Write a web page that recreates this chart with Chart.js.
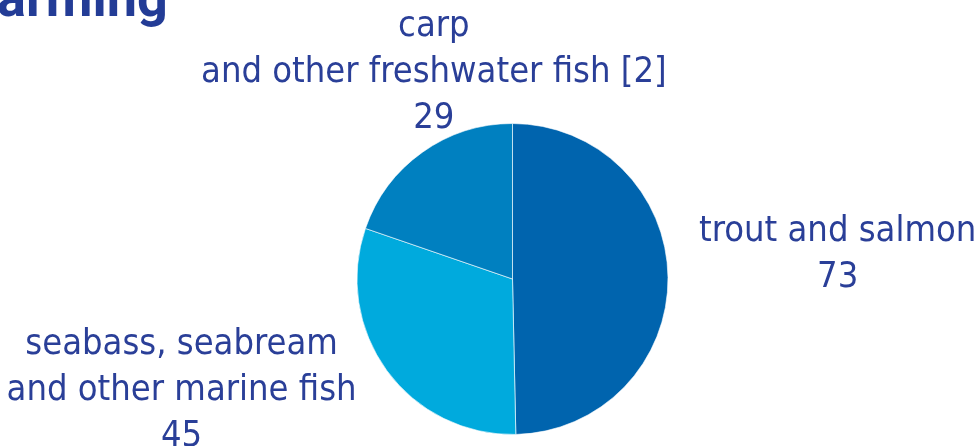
<!DOCTYPE html>
<html>
<head>
<meta charset="utf-8">
<script src="https://cdn.jsdelivr.net/npm/chart.js@4/dist/chart.umd.min.js"></script>
<style>
  html, body { margin: 0; padding: 0; background: #ffffff; }
  #wrap { position: relative; width: 975px; height: 446px; overflow: hidden; }
</style>
</head>
<body>
<div id="wrap"><canvas id="pie" width="975" height="446"></canvas></div>
<script>
const titleText = "farming";
const categories = [
  ["trout and salmon"],
  ["seabass, seabream", "and other marine fish"],
  ["carp", "and other freshwater fish [2]"],
];
const values = [73, 45, 29];
const sliceColors = ["#0064ae", "#00aadd", "#0080c0"];

const TEXT_COLOR = "#2a3f98";
const LABEL_FONT = '36px "DejaVu Sans Condensed", "Liberation Sans Narrow", Roboto, sans-serif';

// title sits partly off the canvas, like in the source
const titlePlugin = {
  id: "cutTitle",
  afterDraw(chart) {
    const ctx = chart.ctx;
    ctx.save();
    ctx.font = 'bold 54px Roboto, "DejaVu Sans", sans-serif';
    ctx.fillStyle = "#233c96";
    ctx.textBaseline = "alphabetic";
    ctx.textAlign = "left";
    const fw = ctx.measureText("f").width;
    ctx.fillText(titleText, -fw - 3, 16);
    ctx.restore();
  },
};

const outerLabels = {
  id: "outerLabels",
  afterDatasetsDraw(chart, args, opts) {
    const ctx = chart.ctx;
    const meta = chart.getDatasetMeta(0);
    ctx.save();
    ctx.font = opts.font;
    ctx.fillStyle = opts.color;
    ctx.textAlign = "center";
    ctx.textBaseline = "alphabetic";
    meta.data.forEach((arc, i) => {
      const { x, y, startAngle, endAngle, outerRadius } = arc.getProps(
        ["x", "y", "startAngle", "endAngle", "outerRadius"],
        true
      );
      const mid = (startAngle + endAngle) / 2;
      const cos = Math.cos(mid);
      const sin = Math.sin(mid);
      const r = outerRadius + opts.gap;
      const ax = x + cos * r;
      const ay = y + sin * r;
      const lines = [...categories[i], String(values[i])];
      const w = Math.max(...lines.map((t) => ctx.measureText(t).width));
      const h = lines.length * opts.lineHeight;
      let cx, top;
      if (Math.abs(cos) > 0.7) {
        cx = cos > 0 ? ax + w / 2 : ax - w / 2;
        top = ay - h / 2;
      } else if (sin < 0) {
        cx = ax;
        top = ay - h;
      } else {
        cx = ax;
        top = ay;
      }
      const n = opts.nudge[i] || [0, 0];
      cx += n[0];
      top += n[1];
      lines.forEach((t, k) => {
        ctx.fillText(t, cx, top + opts.lineHeight * k + opts.baselineShift);
      });
    });
    ctx.restore();
  },
};

new Chart(document.getElementById("pie"), {
  type: "pie",
  data: {
    labels: categories.map((c) => c.join(" ")),
    datasets: [
      {
        data: values,
        backgroundColor: sliceColors,
        borderColor: "rgba(255,255,255,0.6)",
        borderWidth: 1,
        hoverOffset: 0,
      },
    ],
  },
  options: {
    responsive: false,
    animation: false,
    layout: {
      padding: { top: 123, bottom: 11, left: 356, right: 306 },
    },
    plugins: {
      legend: { display: false },
      tooltip: { enabled: false },
      outerLabels: {
        font: LABEL_FONT,
        color: TEXT_COLOR,
        gap: 35,
        lineHeight: 46,
        baselineShift: 34,
        nudge: [
          [-4, -24],
          [-2, -2],
          [32, 16],
        ],
      },
    },
  },
  plugins: [outerLabels, titlePlugin],
});
</script>
</body>
</html>
